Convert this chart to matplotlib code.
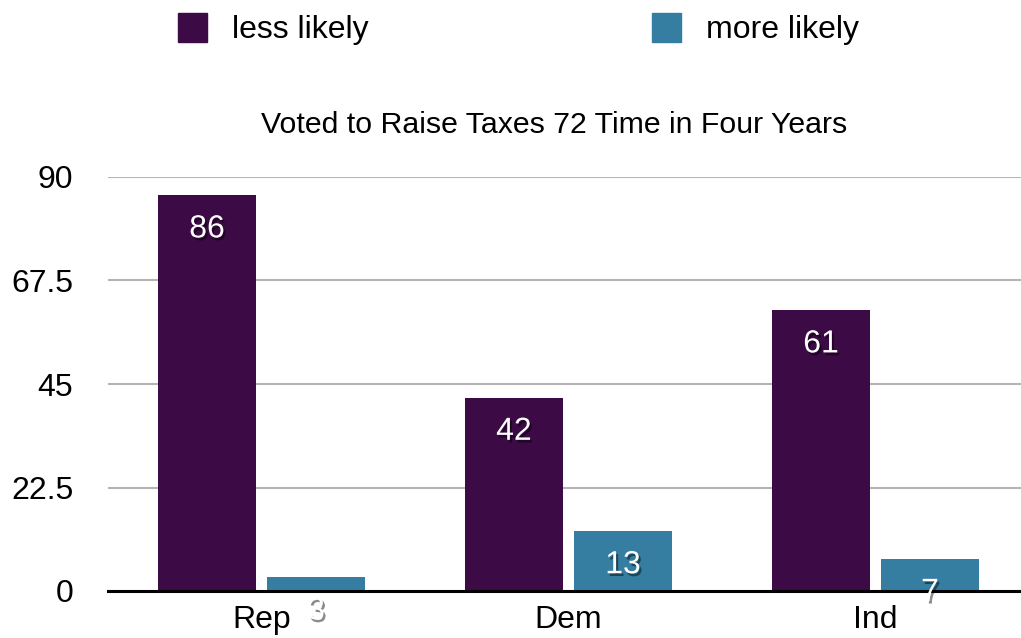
import numpy as np
import matplotlib.pyplot as plt
import matplotlib.patheffects as pe
from matplotlib.patches import Rectangle

plt.rcParams['font.family'] = ['Liberation Sans', 'DejaVu Sans']

categories = ['Rep', 'Dem', 'Ind']
less_likely = [86, 42, 61]
more_likely = [3, 13, 7]
series_names = ['less likely', 'more likely']
colors = ['#3c0a45', '#357ea1']
y_ticks = [0, 22.5, 45, 67.5, 90]
y_tick_labels = ['0', '22.5', '45', '67.5', '90']
title = 'Voted to Raise Taxes 72 Time in Four Years'

fig = plt.figure(figsize=(10.21, 6.38), dpi=100)
ax = fig.add_axes([108 / 1021, 1 - 591 / 638, 1 - 108 / 1021, (591 - 177) / 638])

x = np.arange(len(categories))
width = 0.319
offset = 0.1775
shadow = [pe.SimplePatchShadow(offset=(1.5, -2), alpha=0.45, shadow_rgbFace='black'), pe.Normal()]

for vals, col, sign in [(less_likely, colors[0], -1), (more_likely, colors[1], 1)]:
    bars = ax.bar(x + sign * offset, vals, width, color=col, zorder=3)
    for b, v in zip(bars, vals):
        t = ax.annotate(str(v), (b.get_x() + b.get_width() / 2, v), xytext=(0, -24.5),
                        textcoords='offset points', ha='center', va='center',
                        color='white', fontsize=23, zorder=5, annotation_clip=False)
        t.set_path_effects(shadow)

ax.set_xlim(-0.5, 2.474)
ax.set_ylim(0, 90)
ax.set_yticks(y_ticks)
ax.set_yticklabels(y_tick_labels)
ax.set_xticks(x)
ax.set_xticklabels(categories)
ax.tick_params(axis='both', length=0, labelsize=23)
ax.tick_params(axis='y', pad=25)
ax.tick_params(axis='x', pad=10)
ax.yaxis.grid(True, color='#b4b4b4', linewidth=1.5, zorder=0)
for s in ['top', 'right', 'left']:
    ax.spines[s].set_visible(False)
ax.spines['bottom'].set_linewidth(2.2)
ax.spines['bottom'].set_zorder(4)
ax.set_title(title, fontsize=21.8, pad=32, x=0.4885)

# legend across the top
leg_x = [178, 652]
for name, col, lx in zip(series_names, colors, leg_x):
    fig.patches.append(Rectangle((lx / 1021, 1 - 42 / 638), 29 / 1021, 29 / 638,
                                 transform=fig.transFigure, color=col))
    fig.text((lx + 54) / 1021, 1 - 30 / 638, name, fontsize=23, va='center', ha='left')

fig.savefig('out.png', dpi=100)
